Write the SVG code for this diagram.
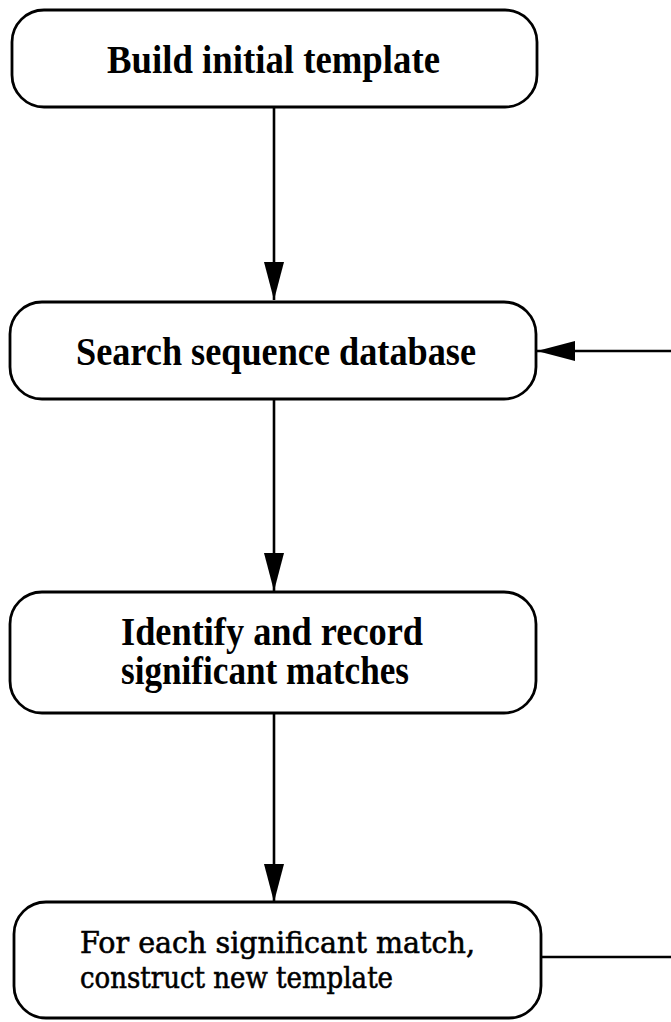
<svg xmlns="http://www.w3.org/2000/svg" width="671" height="1022" viewBox="0 0 671 1022">
<defs>
<style>
.box{fill:#fff;stroke:#000;stroke-width:2.8}
.t{font-family:"Liberation Serif","Times New Roman",serif;font-weight:bold;font-size:39px;fill:#000}
.t2{font-family:"DejaVu Serif","Liberation Serif",serif;font-weight:normal;font-size:29px;fill:#000;stroke:#000;stroke-width:0.6}
.c{stroke:#000;stroke-width:2.6;fill:none}
</style>
<marker id="ah" markerUnits="userSpaceOnUse" markerWidth="40" markerHeight="20" refX="38" refY="10" orient="auto">
<path d="M0,0 L38,10 L0,20 Z" fill="#000"/>
</marker>
</defs>
<rect width="671" height="1022" fill="#fff"/>
<g id="connectors">
<line class="c" x1="274" y1="107" x2="274" y2="300" marker-end="url(#ah)"/>
<line class="c" x1="274" y1="399" x2="274" y2="591" marker-end="url(#ah)"/>
<line class="c" x1="274" y1="713" x2="274" y2="902" marker-end="url(#ah)"/>
<line class="c" x1="541" y1="957" x2="671" y2="957"/>
<line class="c" x1="671" y1="351" x2="537" y2="351" marker-end="url(#ah)"/>
</g>
<g id="n1">
<rect class="box" x="12" y="10" width="525" height="97" rx="32"/>
<text class="t" x="107" y="73" textLength="333" lengthAdjust="spacingAndGlyphs">Build initial template</text>
</g>
<g id="n2">
<rect class="box" x="10" y="302" width="526" height="97" rx="32"/>
<text class="t" x="76" y="365" textLength="400" lengthAdjust="spacingAndGlyphs">Search sequence database</text>
</g>
<g id="n3">
<rect class="box" x="10" y="592" width="526" height="121" rx="32"/>
<text class="t" x="121" y="645" textLength="302" lengthAdjust="spacingAndGlyphs">Identify and record</text>
<text class="t" x="121" y="684" textLength="288" lengthAdjust="spacingAndGlyphs">significant matches</text>
</g>
<g id="n4">
<rect class="box" x="14" y="902" width="527" height="116" rx="32"/>
<text class="t2" x="80" y="953" textLength="395" lengthAdjust="spacingAndGlyphs">For each significant match,</text>
<text class="t2" x="80" y="988" textLength="313" lengthAdjust="spacingAndGlyphs">construct new template</text>
</g>
</svg>
